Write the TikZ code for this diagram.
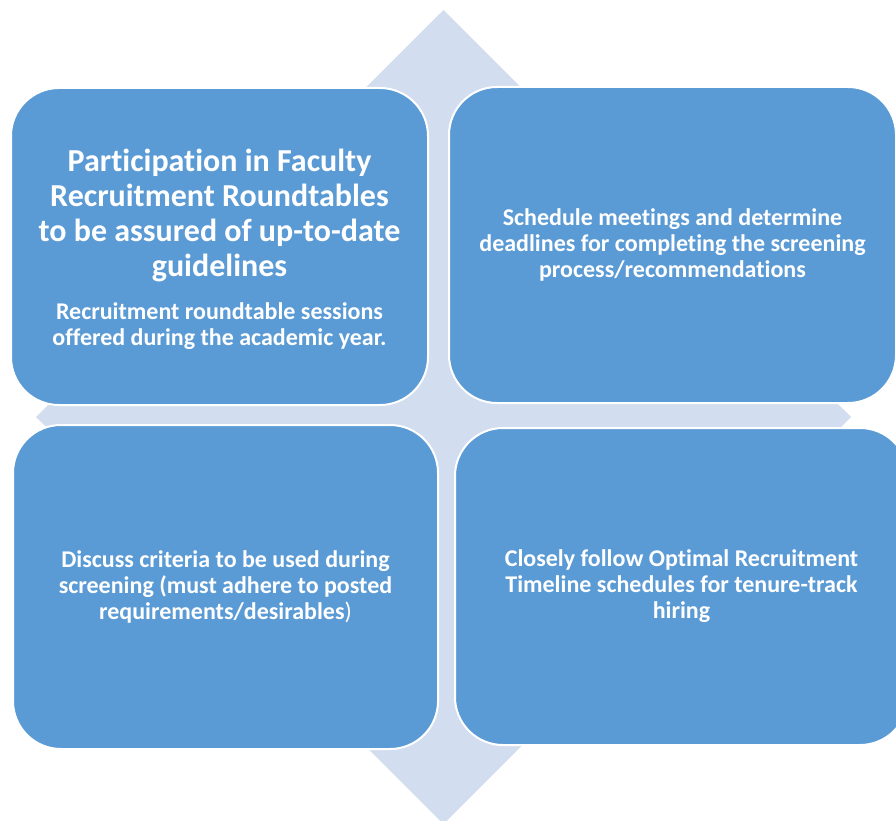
\documentclass[tikz,border=0pt]{standalone}
\usepackage{fontspec}
\setmainfont{Carlito}[RawFeature={-liga;-clig;-dlig;-calt}]
\definecolor{boxblue}{HTML}{5B9BD5}
\definecolor{diamondblue}{HTML}{D2DEEF}
\tikzset{
  box/.style={draw=white, line width=2pt, fill=boxblue, rounded corners=48pt,
    text=white, align=center, inner sep=0pt},
  small/.style={font=\bfseries\fontsize{24}{26}\selectfont},
  label/.style={text=white, align=center, inner sep=0pt}
}
\begin{document}
\begin{tikzpicture}[x=1pt,y=-1pt]
\useasboundingbox (0,0) rectangle (896,821);
\clip (0,0) rectangle (896,821);
\fill[diamondblue] (443.5,10) -- (851,417) -- (443.5,824) -- (36,417) -- cycle;
\node[box, minimum width=417pt, minimum height=317pt] (b1) at (219.5,246.5) {};
\node[label, anchor=north, font=\bfseries\fontsize{32}{35}\selectfont] (t1) at (219.5,149)
  {Participation in Faculty\\ Recruitment Roundtables\\ to be assured of up-to-date\\ guidelines};
\node[label, anchor=north, small] (s1) at (219.5,302)
  {Recruitment roundtable sessions\\ offered during the academic year.};
\node[box, small, minimum width=447pt, minimum height=316pt] (b2) at (672.5,245)
  {Schedule meetings and determine\\ deadlines for completing the screening\\ process/recommendations};
\node[box, small, minimum width=425pt, minimum height=324pt] (b3) at (225.5,587)
  {Discuss criteria to be used during\\ screening (must adhere to posted\\ requirements/desirables\textmd{)}};
\node[box, small, minimum width=453pt, minimum height=317pt] (b4) at (681.5,586.5)
  {Closely follow Optimal Recruitment\\ Timeline schedules for tenure-track\\ hiring};
\end{tikzpicture}
\end{document}
